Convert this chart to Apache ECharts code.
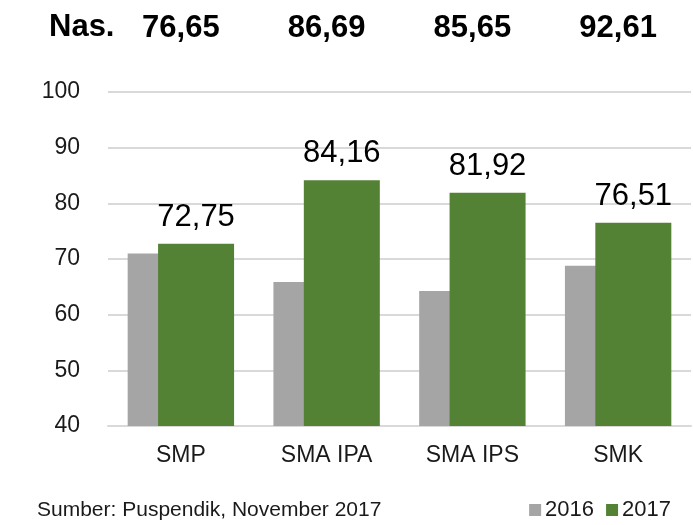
<!DOCTYPE html>
<html>
<head>
<meta charset="utf-8">
<script src="https://cdn.jsdelivr.net/npm/echarts@6/dist/echarts.min.js"></script>
<style>
  html, body { margin: 0; padding: 0; background: #fff; }
  #chart { width: 693px; height: 525px; }
</style>
</head>
<body>
<div id="chart"></div>
<script>
// data
const categories = ['SMP', 'SMA IPA', 'SMA IPS', 'SMK'];
const nilai2016 = [71.0, 65.85, 64.25, 68.8];
const nilai2017 = [72.75, 84.16, 81.92, 76.51];
const nasional = ['76,65', '86,69', '85,65', '92,61'];
const yTicks = [40, 50, 60, 70, 80, 90, 100];

const fontFamily = '"Liberation Sans", Arial, sans-serif';
const koma = v => v.toFixed(2).replace('.', ',');

const chart = echarts.init(document.getElementById('chart'));
const option = {
  animation: false,
  textStyle: { fontFamily: fontFamily },
  title: [
    {
      text: 'Nas.',
      left: 44,
      top: 7,
      textStyle: { fontSize: 31, fontWeight: 'bold', color: '#000', fontFamily: fontFamily }
    },
    {
      text: 'Sumber: Puspendik, November 2017',
      left: 37,
      top: 500,
      padding: 0,
      textStyle: { fontSize: 21, fontWeight: 'normal', color: '#1a1a1a', fontFamily: fontFamily }
    }
  ],
  legend: {
    data: ['2016', '2017'],
    right: 22,
    top: 499,
    padding: 0,
    icon: 'rect',
    itemWidth: 12,
    itemHeight: 12,
    itemGap: 12,
    textStyle: { fontSize: 22, color: '#1a1a1a', padding: [0, 0, 0, -1] }
  },
  grid: {
    left: 108,
    right: 2,
    top: 92,
    bottom: 99,
    containLabel: false
  },
  xAxis: [
    {
      type: 'category',
      data: categories,
      axisLine: { lineStyle: { color: '#d9d9d9', width: 2 } },
      axisTick: { show: false },
      axisLabel: { fontSize: 23, color: '#1a1a1a', margin: 18 }
    },
    {
      type: 'category',
      position: 'top',
      data: categories,
      axisLine: { show: false },
      axisTick: { show: false },
      axisLabel: {
        margin: 48,
        fontSize: 31,
        fontWeight: 'bold',
        color: '#000',
        formatter: (v, i) => nasional[i]
      }
    }
  ],
  yAxis: {
    type: 'value',
    min: yTicks[0],
    max: yTicks[yTicks.length - 1],
    interval: 10,
    axisLine: { show: false },
    axisTick: { show: false },
    axisLabel: { fontSize: 23, color: '#1a1a1a', margin: 28 },
    splitLine: { lineStyle: { color: '#d9d9d9', width: 2 } }
  },
  series: [
    {
      name: '2016',
      type: 'bar',
      data: nilai2016,
      barWidth: 76,
      barGap: '-60%',
      itemStyle: { color: '#a5a5a5' }
    },
    {
      name: '2017',
      type: 'bar',
      data: nilai2017,
      barWidth: 76,
      barGap: '-60%',
      itemStyle: { color: '#548235' },
      label: {
        show: true,
        position: 'top',
        distance: 11,
        fontSize: 31,
        color: '#000',
        formatter: p => koma(p.value)
      }
    }
  ]
};

chart.setOption(option);
</script>
</body>
</html>
